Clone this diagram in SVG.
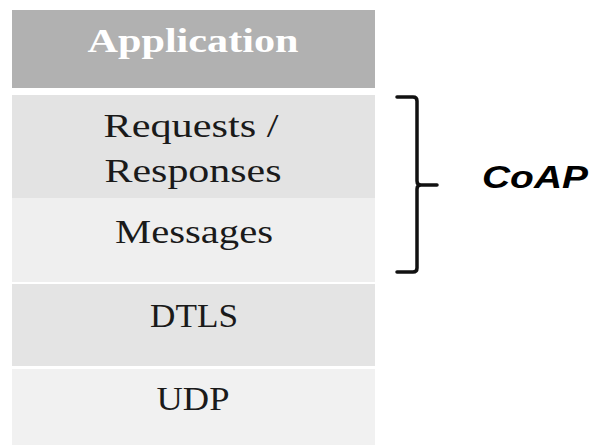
<svg xmlns="http://www.w3.org/2000/svg" width="589" height="445" viewBox="0 0 589 445">
<style>
.lbl{font-family:"Liberation Serif","Times New Roman",serif;font-size:33px;fill:#1a1a1a;text-anchor:middle}
.app{font-weight:bold;fill:#ffffff;font-size:34px}
.br{fill:none;stroke:#111;stroke-width:3.5;stroke-linecap:round;stroke-linejoin:round}
.coap{font-family:"Liberation Sans",Arial,sans-serif;font-size:31px;font-weight:bold;font-style:italic;fill:#000}
</style>
<rect width="589" height="445" fill="#fff"/>
<g id="application">
<rect x="12" y="10" width="363" height="78" fill="#b1b1b1"/>
<text class="lbl app" x="193" y="52" textLength="211" lengthAdjust="spacingAndGlyphs">Application</text>
</g>
<g id="requests">
<rect x="12" y="95" width="363" height="103" fill="#e3e3e3"/>
<text class="lbl" x="191" y="137" textLength="175" lengthAdjust="spacingAndGlyphs">Requests /</text>
<text class="lbl" x="193" y="182" textLength="177" lengthAdjust="spacingAndGlyphs">Responses</text>
</g>
<g id="messages">
<rect x="12" y="198" width="363" height="84" fill="#efefef"/>
<text class="lbl" x="194" y="243" textLength="158" lengthAdjust="spacingAndGlyphs">Messages</text>
</g>
<g id="dtls">
<rect x="12" y="284" width="363" height="82" fill="#e4e4e4"/>
<text class="lbl" x="194" y="327" textLength="88" lengthAdjust="spacingAndGlyphs">DTLS</text>
</g>
<g id="udp">
<rect x="12" y="369" width="363" height="76" fill="#f1f1f1"/>
<text class="lbl" x="193" y="410" textLength="73" lengthAdjust="spacingAndGlyphs">UDP</text>
</g>
<g id="connectors">
<path class="br" d="M397 97 L413 97 Q417 97 417 101 L417 181 Q417 185 421 185 L437 185 M421 185 Q417 185 417 189 L417 268 Q417 272 413 272 L397 272"/>
</g>
<g id="coap">
<text class="coap" x="482" y="188" textLength="106" lengthAdjust="spacingAndGlyphs">CoAP</text>
</g>
</svg>
